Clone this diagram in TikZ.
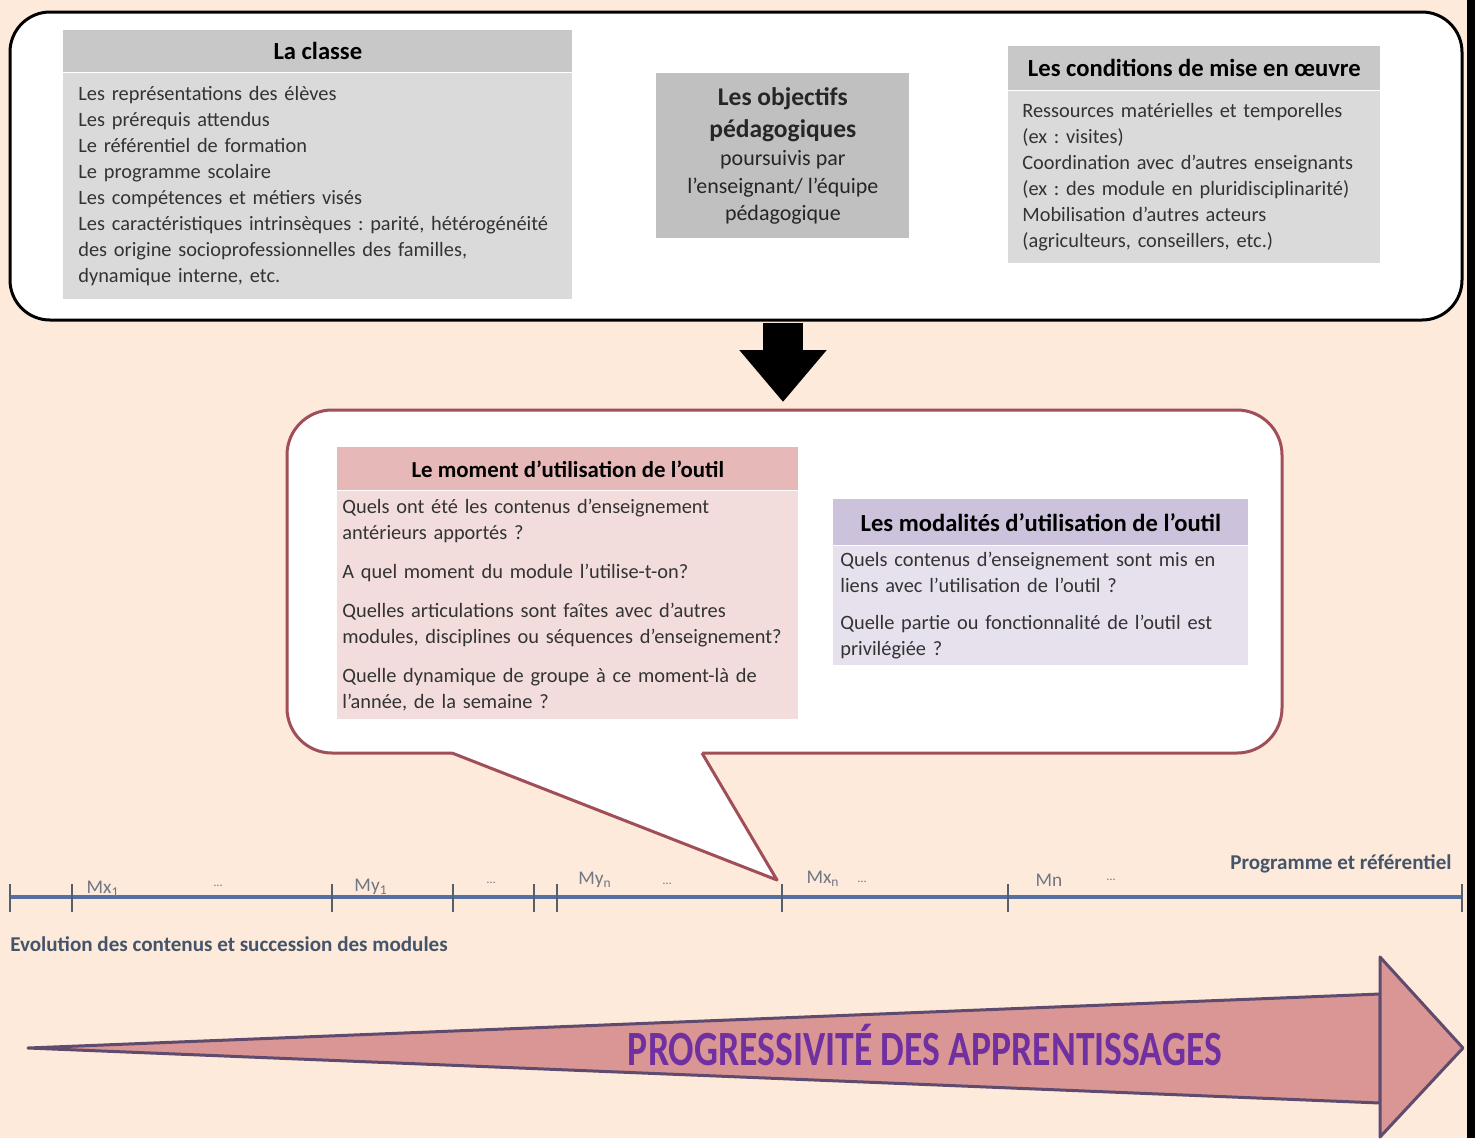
\documentclass[tikz,border=0pt]{standalone}
\usepackage{fontspec}
\setmainfont{Carlito}
\usepackage{graphicx}
\usetikzlibrary{positioning,arrows.meta}
\frenchspacing

\definecolor{fond}{RGB}{253,234,218}
\definecolor{grisfonce}{RGB}{200,200,200}
\definecolor{grisclair}{RGB}{218,218,218}
\definecolor{grismoyen}{RGB}{192,192,192}
\definecolor{rosefonce}{RGB}{230,185,184}
\definecolor{roseclair}{RGB}{242,221,220}
\definecolor{mauvefonce}{RGB}{205,194,219}
\definecolor{mauveclair}{RGB}{230,225,237}
\definecolor{bordbulle}{RGB}{160,78,88}
\definecolor{couleuraxe}{RGB}{84,112,163}
\definecolor{couleurgrad}{RGB}{85,95,110}
\definecolor{texteaxe}{RGB}{112,118,130}
\definecolor{texteleg}{RGB}{68,84,106}
\definecolor{fleche}{RGB}{217,150,148}
\definecolor{bordfleche}{RGB}{95,75,110}
\definecolor{violetprog}{RGB}{112,48,160}

\tikzstyle{cadre}=[draw=black,line width=.6mm,fill=white,rounded corners=8mm]
\tikzstyle{bulle}=[draw=bordbulle,line width=.6mm,fill=white,rounded corners=9mm]
\tikzstyle{titre}=[anchor=north west,inner sep=0pt,
                   font=\fontsize{14}{16}\selectfont\bfseries]
\tikzstyle{corps}=[align=left,inner ysep=0pt,text=black!80,
                   font=\fontsize{11.6}{14.8}\selectfont]
\tikzstyle{objectif}=[anchor=north west,fill=grismoyen,minimum width=50.6mm,
                   minimum height=33mm,align=center,inner sep=0pt,text=black!85,
                   font=\fontsize{12.5}{15.6}\selectfont]
\tikzstyle{etiquette}=[text=texteaxe,font=\fontsize{11}{13}\selectfont]
\tikzstyle{points}=[text=texteaxe,font=\fontsize{7}{8}\selectfont]
\tikzstyle{legende}=[text=texteleg,inner xsep=0pt,font=\fontsize{12}{14}\selectfont\bfseries]
\tikzstyle{progression}=[fill=fleche,draw=bordfleche,line width=.6mm,line join=round]
\tikzstyle{grossefleche}=[-{Triangle[length=10.4mm,width=16.8mm]},line width=8mm]

\begin{document}
\begin{tikzpicture}[x=0.2mm,y=-0.2mm]

  % fond
  \fill[fond] (0,0) rectangle (1475,1138);
  \useasboundingbox (0,0) rectangle (1475,1138);
  \fill[black] (1467,0) rectangle (1475,1138);

  % contexte
  \draw[cadre] (10,12) rectangle (1462,320);

  \node[titre,fill=grisfonce,minimum width=101.8mm,minimum height=8.4mm] (classe) at (63,30) {La classe};
  \node[corps,fill=grisclair,text width=95.8mm,inner xsep=3mm,minimum height=45.2mm,
        below=0pt of classe] (classeliste) {Les représentations des élèves\\
    Les prérequis attendus\\
    Le référentiel de formation\\
    Le programme scolaire\\
    Les compétences et métiers visés\\
    Les caractéristiques intrinsèques : parité, hétérogénéité\\
    des origine socioprofessionnelles des familles,\\
    dynamique interne, etc.};

  \node[objectif] (objectifs) at (656,73) {{\fontsize{14.5}{18}\selectfont\bfseries Les objectifs}\\[2.6pt]
    {\fontsize{14.5}{18}\selectfont\bfseries pédagogiques}\\[0.8pt]
    poursuivis par\\
    l’enseignant/ l’équipe\\
    pédagogique};

  \node[titre,fill=grisfonce,minimum width=74.4mm,minimum height=8.8mm] (conditions) at (1008,46) {Les conditions de mise en œuvre};
  \node[corps,fill=grisclair,text width=68.8mm,inner xsep=2.8mm,minimum height=34.4mm,
        below=0pt of conditions] (conditionsliste) {Ressources matérielles et temporelles\\
    (ex : visites)\\
    Coordination avec d’autres enseignants\\
    (ex : des module en pluridisciplinarité)\\
    Mobilisation d’autres acteurs\\
    (agriculteurs, conseillers, etc.)};

  % passage vers la bulle
  \coordinate (depart) at (783,323);
  \coordinate (arrivee) at (783,402);
  \draw[grossefleche] (depart) -- (arrivee);

  % bulle
  \coordinate (pointe) at (777,880);
  \draw[bulle] (287,410) rectangle (1282,753);
  \fill[white] (452,753) -- (pointe) -- (702,753) -- (702,749) -- (452,749) -- cycle;
  \draw[draw=bordbulle,line width=.6mm,line join=round] (452,753) -- (pointe) -- (702,753);

  \node[titre,fill=rosefonce,minimum width=92.2mm,minimum height=8.6mm,
        font=\fontsize{13}{15}\selectfont\bfseries] (moment) at (337,447) {Le moment d’utilisation de l’outil};
  \node[corps,fill=roseclair,text width=90.2mm,inner xsep=1mm,minimum height=45.6mm,
        below=0pt of moment] (momentliste) {Quels ont été les contenus d’enseignement\\
    antérieurs apportés ?\\[7.4pt]
    A quel moment du module l’utilise-t-on?\\[7.4pt]
    Quelles articulations sont faîtes avec d’autres\\
    modules, disciplines ou séquences d’enseignement?\\[7.4pt]
    Quelle dynamique de groupe à ce moment-là de\\
    l’année, de la semaine ?};

  \node[titre,fill=mauvefonce,minimum width=83mm,minimum height=9.2mm] (modalites) at (833,499) {Les modalités d’utilisation de l’outil};
  \node[corps,fill=mauveclair,text width=80.2mm,inner xsep=1.4mm,minimum height=23.8mm,
        below=0pt of modalites] (modalitesliste) {Quels contenus d’enseignement sont mis en\\
    liens avec l’utilisation de l’outil ?\\[6.8pt]
    Quelle partie ou fonctionnalité de l’outil est\\
    privilégiée ?};

  % axe des modules
  \coordinate (debut) at (10,897);
  \coordinate (fin) at (1462,897);
  \draw[couleuraxe,line width=.8mm] (debut) -- (fin);
  \foreach \x in {10,72,332,453,534,557,782,1008,1462}
    \draw[couleurgrad,line width=.3mm] (\x,884) -- (\x,912);

  \node[etiquette] (mx1) at (103,889) {Mx\textsubscript{1}};
  \node[points] (p1) at (218,886) {…};
  \node[etiquette] (my1) at (371,887) {My\textsubscript{1}};
  \node[points] (p2) at (491,883) {…};
  \node[etiquette] (myn) at (595,880) {My\textsubscript{n}};
  \node[points] (p3) at (667,884) {…};
  \node[etiquette] (mxn) at (823,879) {Mx\textsubscript{n}};
  \node[points] (p4) at (862,882) {…};
  \node[etiquette] (mn) at (1049,880) {Mn};
  \node[points] (p5) at (1111,880) {…};

  \node[legende,anchor=east] (programme) at (1452,864) {Programme et référentiel};
  \node[legende,anchor=west] (evolution) at (10,944) {Evolution des contenus et succession des modules};

  % progressivite
  \draw[progression] (28,1048) -- (1380,994) -- (1380,1103) -- cycle;
  \draw[progression] (1380,957) -- (1463,1048) -- (1380,1137) -- cycle;
  \node[text=violetprog] (apprentissages) at (925,1045) {\resizebox{118.8mm}{\height}{\fontsize{28}{30}\selectfont\bfseries PROGRESSIVITÉ DES APPRENTISSAGES}};

\end{tikzpicture}
\end{document}
